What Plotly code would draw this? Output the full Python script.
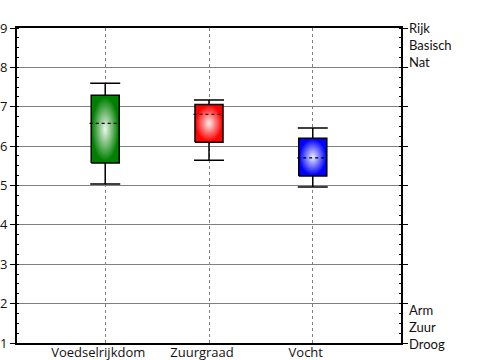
import plotly.graph_objects as go

categories = ["Voedselrijkdom", "Zuurgraad", "Vocht"]
q1 = [5.57, 6.10, 5.24]
q3 = [7.29, 7.06, 6.20]
median = [6.58, 6.81, 5.70]
lower = [5.04, 5.64, 4.96]
upper = [7.60, 7.17, 6.46]
box_colors = ["#008000", "#ff0000", "#0000ff"]
center_colors = ["#eef7ee", "#ffeeee", "#eeeeff"]
y_ticks = [1, 2, 3, 4, 5, 6, 7, 8, 9]
top_labels = ["Rijk", "Basisch", "Nat"]
bottom_labels = ["Arm", "Zuur", "Droog"]

FONT = "Lato"
XFONT = "Open Sans"
HW = 0.135
xs = list(range(len(categories)))

fig = go.Figure()

# whiskers (drawn first, boxes cover the inner part)
fig.add_trace(go.Scatter(
    x=xs, y=median, mode="markers",
    marker=dict(size=1, color="rgba(0,0,0,0)"),
    error_y=dict(type="data", symmetric=False,
                 array=[u - m for u, m in zip(upper, median)],
                 arrayminus=[m - l for m, l in zip(median, lower)],
                 color="black", thickness=1.5, width=15),
    showlegend=False, hoverinfo="skip"))

for i, x in enumerate(xs):
    fig.add_trace(go.Scatter(
        x=[x - HW, x + HW, x + HW, x - HW, x - HW],
        y=[q1[i], q1[i], q3[i], q3[i], q1[i]],
        mode="lines", fill="toself",
        fillgradient=dict(type="radial",
                          colorscale=[[0, center_colors[i]], [0.95, box_colors[i]], [1, box_colors[i]]]),
        line=dict(color="black", width=1.5),
        showlegend=False, hoverinfo="skip"))
    fig.add_trace(go.Scatter(
        x=[x - HW - 0.015, x + HW - 0.015], y=[median[i], median[i]],
        mode="lines", line=dict(color="black", width=1.2, dash="3px,3px"),
        showlegend=False, hoverinfo="skip"))

annotations = []
for k, t in enumerate(top_labels):
    annotations.append(dict(text=t, xref="paper", x=1, xanchor="left", xshift=6,
                            yref="y", y=y_ticks[-1], yanchor="middle", yshift=-17 * k,
                            showarrow=False, font=dict(family=FONT, size=13, color="#111")))
for k, t in enumerate(reversed(bottom_labels)):
    annotations.append(dict(text=t, xref="paper", x=1, xanchor="left", xshift=6,
                            yref="y", y=y_ticks[0], yanchor="middle", yshift=17 * k - 1,
                            showarrow=False, font=dict(family=FONT, size=13, color="#111")))

fig.update_layout(
    width=500, height=360,
    margin=dict(l=17, r=99, t=28, b=17, autoexpand=False),
    paper_bgcolor="white", plot_bgcolor="white",
    font=dict(family=FONT, size=13, color="#111"),
    annotations=annotations,
    xaxis=dict(range=[-0.85, 2.85], tickvals=xs, ticktext=categories, automargin=False,
               showgrid=True, griddash="3px,3px", gridcolor="#808080", gridwidth=1,
               ticks="", showline=True, mirror=True, linewidth=2, linecolor="black",
               zeroline=False, ticklabelshift=-7, ticklabelstandoff=-4,
               tickfont=dict(family=XFONT, size=13, color="#111")),
    yaxis=dict(range=[1, 9], tickvals=y_ticks, showgrid=True, gridcolor="#808080", gridwidth=1,
               automargin=False,
               ticks="outside", ticklen=5, tickcolor="black", tickwidth=1,
               showline=True, mirror="ticks", linewidth=2, linecolor="black",
               zeroline=False, tickfont=dict(family=XFONT, size=13, color="#111"),
               minor=dict(ticks="inside", ticklen=2, dtick=0.25, tickcolor="black", showgrid=False)),
)

fig.write_html("out.html", config={"displayModeBar": False},
               post_script="document.body.style.margin='0';")
